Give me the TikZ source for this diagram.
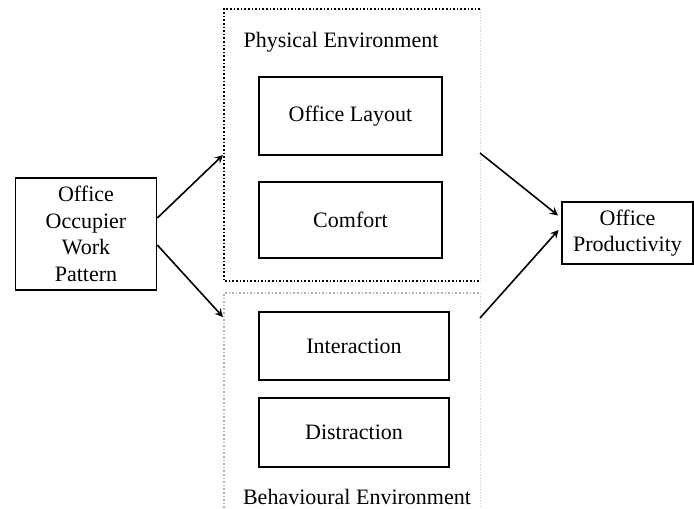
\documentclass[tikz,border=0pt]{standalone}
\usepackage{fontspec}
\setmainfont{Liberation Serif}
\usepackage{tikz}

\begin{document}
\begin{tikzpicture}[x=0.5pt,y=-0.5pt,font=\fontsize{11}{13.3}\selectfont]
\useasboundingbox (0,0) rectangle (694,508);
%styles
\tikzset{box/.style={draw,thick,align=center,inner sep=2pt},
  link/.style={->,>=stealth,thick}}
%environment frames
\draw[densely dotted,thick] (480,9) -- (224,9) -- (224,281) -- (480,281);
\draw[densely dotted,gray!40] (480,9) -- (480,281);
\draw[densely dotted,thick,gray!60] (224,508) -- (224,293) -- (480,293);
\draw[densely dotted,gray!40] (480,293) -- (480,508);
\node (physlabel) at (341,42) {Physical Environment};
\node[anchor=west] (behlabel) at (236,497) {Behavioural Environment};
%inner boxes
\node[box,minimum width=91.5pt,minimum height=39pt] (layout) at (350.5,116) {Office Layout};
\node[box,minimum width=91.5pt,minimum height=38pt] (comfort) at (350.5,220) {Comfort};
\node[box,minimum width=95pt,minimum height=34pt] (interaction) at (354,346) {Interaction};
\node[box,minimum width=95pt,minimum height=34.5pt] (distraction) at (354,432.5) {Distraction};
%outer boxes
\node[box,minimum width=70.5pt,minimum height=56pt] (occupier) at (86,234) {Office\\Occupier\\Work\\Pattern};
\node[box,minimum width=65.5pt,minimum height=31pt] (productivity) at (627.5,233) {Office\\Productivity};
%arrows
\coordinate (physin) at (223,155);
\coordinate (behin) at (223,317);
\coordinate (physout) at (480,153);
\coordinate (behout) at (480,318);
\draw[link] ([yshift=8pt]occupier.east) -- (physin);
\draw[link] ([yshift=-5.5pt]occupier.east) -- (behin);
\draw[link,shorten >=2pt] (physout) -- ([yshift=7.5pt]productivity.west);
\draw[link,shorten >=2pt] (behout) -- ([yshift=3pt]productivity.west);
\end{tikzpicture}
\end{document}
